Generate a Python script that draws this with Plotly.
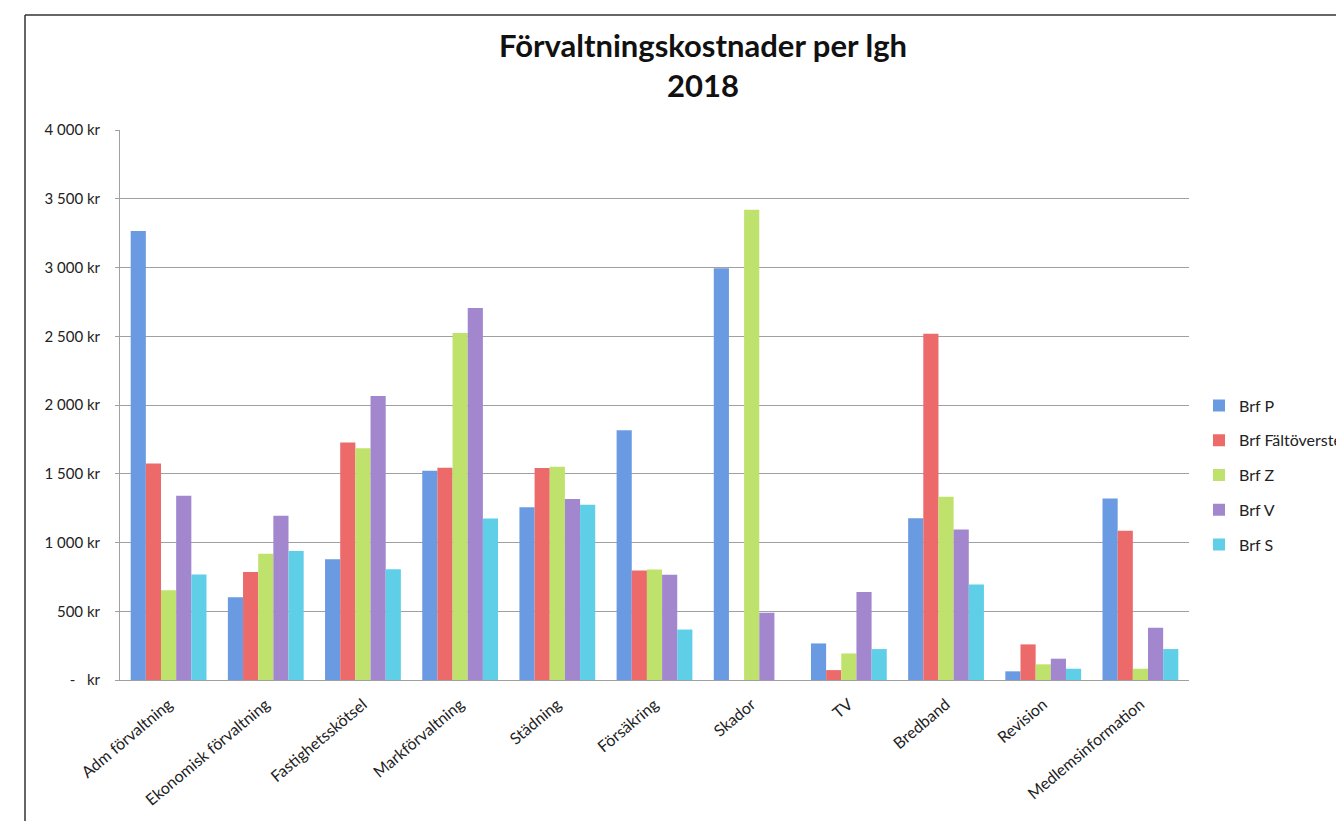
import plotly.graph_objects as go

categories = ["Adm förvaltning", "Ekonomisk förvaltning", "Fastighetsskötsel",
              "Markförvaltning", "Städning", "Försäkring", "Skador", "TV",
              "Bredband", "Revision", "Medlemsinformation"]

series_names = ["Brf P", "Brf Fältöversten", "Brf Z", "Brf V", "Brf S"]

brf_p = [3265, 602, 878, 1521, 1256, 1816, 2995, 266, 1177, 63, 1320]
brf_f = [1575, 786, 1727, 1543, 1541, 797, None, 72, 2518, 259, 1085]
brf_z = [653, 919, 1686, 2524, 1551, 804, 3420, 193, 1332, 114, 82]
brf_v = [1340, 1195, 2065, 2705, 1316, 766, 490, 640, 1094, 155, 380]
brf_s = [768, 938, 805, 1175, 1275, 367, None, 225, 695, 82, 225]

tick_vals = [0, 500, 1000, 1500, 2000, 2500, 3000, 3500, 4000]
tick_text = ["-   kr", "500 kr", "1 000 kr", "1 500 kr", "2 000 kr",
             "2 500 kr", "3 000 kr", "3 500 kr", "4 000 kr"]

colors = ["#6a9be2", "#ec6a6a", "#bfe26c", "#a287cf", "#5fcfe8"]
values = [brf_p, brf_f, brf_z, brf_v, brf_s]

FONT = "Lato, Open Sans, sans-serif"

# page body has an 8px margin; compensate so the chart lands where the reference has it
OFF = 8
W, H = 1344, 821
PL, PR, PT, PB = 120 - OFF, 1189 - OFF, 130 - OFF, 680 - OFF
PW, PH = PR - PL, PB - PT

fig = go.Figure()
for i, (name, vals) in enumerate(zip(series_names, values)):
    fig.add_trace(go.Bar(
        x=categories, y=vals, name=name,
        marker=dict(color=colors[i], line=dict(width=0)),
        legendgroup=f"g{i}",
    ))

fig.update_layout(
    width=W, height=H,
    paper_bgcolor="white", plot_bgcolor="white",
    margin=dict(l=PL, r=W - PR, t=PT, b=H - PB, autoexpand=False),
    barmode="group", bargap=0.22, bargroupgap=0,
    font=dict(family=FONT, size=15, color="#222222"),
    title=dict(
        text="<b>Förvaltningskostnader per lgh<br>2018</b>",
        x=(703 - OFF) / W, xanchor="center", xref="container",
        y=1 - (57 - OFF) / H, yanchor="middle", yref="container",
        font=dict(family=FONT, size=31, color="#111111"),
    ),
    legend=dict(
        x=(1199 - OFF - PL) / PW, xanchor="left",
        y=(PB - (475 - OFF)) / PH, yanchor="middle",
        font=dict(family=FONT, size=16, color="#222222"),
        tracegroupgap=11, bgcolor="rgba(0,0,0,0)",
    ),
    showlegend=True,
)

fig.update_yaxes(
    range=[0, 4000], tickvals=tick_vals, ticktext=tick_text,
    showgrid=True, gridcolor="#a0a0a0", gridwidth=1,
    showline=True, linecolor="#a0a0a0", linewidth=1,
    ticks="outside", ticklen=4, tickcolor="#a0a0a0",
    ticklabelstandoff=12, zeroline=False,
    tickfont=dict(family=FONT, size=15, color="#222222"),
)
fig.update_xaxes(
    tickangle=-40, showline=True, linecolor="#a0a0a0", linewidth=1,
    ticks="", ticklabelstandoff=8,
    tickfont=dict(family=FONT, size=16, color="#222222"),
)

# chart frame (left and top border)
fx = (25 - OFF - PL) / PW
fy = (PB - (15 - OFF)) / PH
fig.add_shape(type="line", xref="paper", yref="paper",
              x0=fx, x1=fx, y0=fy, y1=(PB - 900) / PH,
              line=dict(color="#333333", width=1.5))
fig.add_shape(type="line", xref="paper", yref="paper",
              x0=fx, x1=(1500 - PL) / PW, y0=fy, y1=fy,
              line=dict(color="#333333", width=1.5))

fig.write_html("out.html")
